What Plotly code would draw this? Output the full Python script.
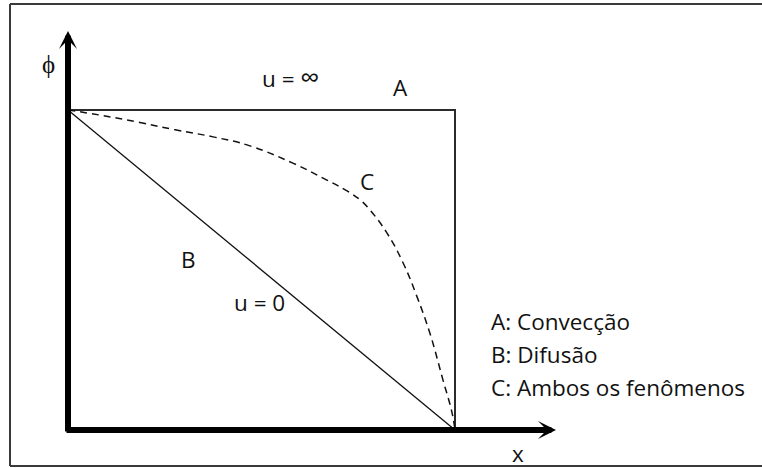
import plotly.graph_objects as go

# --- data (normalized: x in [0,1], phi in [0,1]) ---
curve_a_x = [0.0, 1.0, 1.0]          # A: convecção (u = inf)
curve_a_phi = [1.0, 1.0, 0.0]
curve_b_x = [0.0, 1.0]               # B: difusão (u = 0)
curve_b_phi = [1.0, 0.0]
curve_c_x = [0.0, 0.083, 0.186, 0.277, 0.375, 0.470, 0.581, 0.669, 0.721,
             0.755, 0.780, 0.824, 0.866, 0.902, 0.935, 0.969, 0.992, 1.0]
curve_c_phi = [1.0, 0.984, 0.961, 0.938, 0.916, 0.888, 0.834, 0.781, 0.747,
               0.719, 0.688, 0.616, 0.522, 0.416, 0.303, 0.156, 0.056, 0.0]
legend_lines = ["A: Convecção", "B: Difusão", "C: Ambos os fenômenos"]

W, H = 762, 468
X0, XS = 68, 387     # pixel of x=0, pixels per unit
Y0, YS = 430, 320    # pixel of phi=0, pixels per unit


def dx(px):
    return (px - X0) / XS


def dy(py):
    return (Y0 - py) / YS


FONT = "Open Sans"
TXT = "#111111"

fig = go.Figure()
fig.add_trace(go.Scatter(x=curve_a_x, y=curve_a_phi, mode="lines",
                         line=dict(color="#2b2b2b", width=2), hoverinfo="skip"))
fig.add_trace(go.Scatter(x=curve_b_x, y=curve_b_phi, mode="lines",
                         line=dict(color="#111111", width=1.3), hoverinfo="skip"))
fig.add_trace(go.Scatter(x=curve_c_x, y=curve_c_phi, mode="lines",
                         line=dict(color="#111111", width=1.5, dash="7px,5px",
                                   shape="spline", smoothing=1.2),
                         hoverinfo="skip"))

annotations = []
# axes with arrows
annotations.append(dict(x=0, y=dy(31), ax=0, ay=dy(433), xref="x", yref="y",
                        axref="x", ayref="y", showarrow=True, arrowhead=3,
                        arrowwidth=6, arrowsize=0.5, arrowcolor="black", text=""))
annotations.append(dict(x=dx(556), y=0, ax=dx(65), ay=0, xref="x", yref="y",
                        axref="x", ayref="y", showarrow=True, arrowhead=3,
                        arrowwidth=6, arrowsize=0.5, arrowcolor="black", text=""))


def label(text, px, py, size=22.5, xanchor="center"):
    annotations.append(dict(x=dx(px), y=dy(py), xref="x", yref="y", text=text,
                            showarrow=False, xanchor=xanchor, yanchor="middle",
                            font=dict(family=FONT, size=size, color=TXT)))


label("ϕ", 48, 63, size=25)
label("u = <span style='font-size:27px'>∞</span>", 290, 76)
label("A", 400, 87)
label("C", 367, 181)
label("B", 188, 259)
label("u = 0", 259, 302)
label("x", 518, 453)
for i, t in enumerate(legend_lines):
    label(t, 489, 321 + 33 * i, xanchor="left")

frame_line = dict(color="#3a3a3a", width=2)
bx0, by0, by1 = 10 / W, 1 - 466 / H, 1 - 4 / H
fig.update_layout(
    width=W, height=H,
    margin=dict(l=0, r=0, t=0, b=0),
    paper_bgcolor="white", plot_bgcolor="white",
    showlegend=False,
    xaxis=dict(range=[dx(0), dx(W)], visible=False, fixedrange=True),
    yaxis=dict(range=[dy(H), dy(0)], visible=False, fixedrange=True),
    annotations=annotations,
    shapes=[
        dict(type="line", xref="paper", yref="paper", x0=bx0, x1=bx0,
             y0=by0, y1=by1, line=frame_line),
        dict(type="line", xref="paper", yref="paper", x0=bx0, x1=1.0,
             y0=by1, y1=by1, line=frame_line),
        dict(type="line", xref="paper", yref="paper", x0=bx0, x1=1.0,
             y0=by0, y1=by0, line=frame_line),
    ],
)

fig.write_html("out.html", config={"displayModeBar": False},
               post_script="document.body.style.margin='0';"
                           "document.body.style.overflow='hidden';")
